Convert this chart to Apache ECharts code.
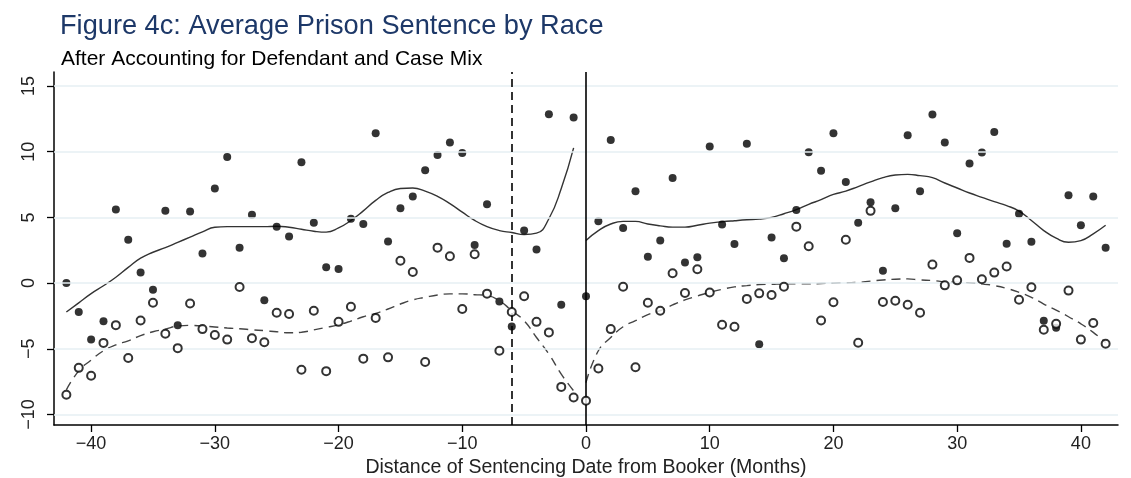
<!DOCTYPE html>
<html>
<head>
<meta charset="utf-8">
<script src="https://cdn.jsdelivr.net/npm/echarts@6/dist/echarts.min.js"></script>
<style>html,body{margin:0;padding:0;background:#fff}#c{width:1131px;height:478px}</style>
</head>
<body>
<div id="c"></div>
<script>
const monthsBefore = [-42,-41,-40,-39,-38,-37,-36,-35,-34,-33,-32,-31,-30,-29,-28,-27,-26,-25,-24,-23,-22,-21,-20,-19,-18,-17,-16,-15,-14,-13,-12,-11,-10,-9,-8,-7,-6,-5,-4,-3,-2,-1];
const monthsAfter = [0,1,2,3,4,5,6,7,8,9,10,11,12,13,14,15,16,17,18,19,20,21,22,23,24,25,26,27,28,29,30,31,32,33,34,35,36,37,38,39,40,41,42];

// Filled dots (group 1)
const filledBefore = [0,-2.2,-4.3,-2.9,5.6,3.3,0.8,-0.5,5.5,-3.2,5.45,2.25,7.2,9.6,2.7,5.2,-1.3,4.3,3.55,9.2,4.6,1.2,1.08,4.9,4.5,11.4,3.17,5.7,6.6,8.6,9.75,10.7,9.9,2.9,6.0,-1.4,-3.3,4.0,2.55,12.85,-1.65,12.6];
const filledAfter = [-1.0,4.7,10.9,4.2,7.0,2.0,3.25,8.0,1.56,1.97,10.4,4.47,2.97,10.6,-4.65,3.47,1.9,5.56,9.96,8.56,11.4,7.7,4.6,6.15,0.95,5.7,11.26,7.0,12.84,10.7,3.8,9.1,9.94,11.5,3.0,5.28,3.14,-2.86,-3.4,6.68,4.4,6.6,2.7];

// Hollow circles (group 2)
const hollowBefore = [-8.5,-6.45,-7.05,-4.55,-3.2,-5.7,-2.85,-1.5,-3.85,-4.95,-1.55,-3.5,-3.95,-4.3,-0.3,-4.2,-4.5,-2.25,-2.35,-6.6,-2.1,-6.7,-2.95,-1.8,-5.75,-2.65,-5.65,1.7,0.85,-6.0,2.7,2.05,-1.97,2.2,-0.8,-5.15,-2.2,-1.0,-2.95,-3.75,-7.9,-8.7];
const hollowAfter = [-8.95,-6.5,-3.5,-0.27,-6.4,-1.5,-2.1,0.75,-0.75,1.05,-0.72,-3.17,-3.32,-1.2,-0.78,-0.9,-0.27,4.3,2.8,-2.84,-1.46,3.3,-4.54,5.5,-1.44,-1.34,-1.64,-2.25,1.41,-0.17,0.21,1.92,0.29,0.8,1.26,-1.26,-0.32,-3.55,-3.1,-0.57,-4.3,-3.04,-4.62];

// Fitted curves
const solidFitBefore = [-2.2,-1.5,-0.8,-0.2,0.45,1.2,1.9,2.35,2.7,3.1,3.5,3.9,4.25,4.3,4.3,4.3,4.3,4.33,4.25,4.1,3.95,3.88,4.2,4.77,5.5,6.3,6.9,7.2,7.24,7.0,6.6,6.05,5.4,4.77,4.3,4.0,3.85,3.7,3.8,4.9,7.2,10.3];
const solidFitAfter = [3.25,4.0,4.5,4.7,4.7,4.5,4.36,4.26,4.26,4.4,4.57,4.67,4.75,4.82,4.87,5.0,5.28,5.6,6.0,6.35,6.75,7.0,7.35,7.7,8.03,8.23,8.28,8.18,8.03,7.62,7.24,6.86,6.53,6.2,5.9,5.48,4.77,4.0,3.42,3.11,3.24,3.75,4.4];
const dashFitBefore = [-8.13,-6.68,-5.86,-5.15,-4.7,-4.39,-4.0,-3.7,-3.5,-3.27,-3.22,-3.27,-3.34,-3.42,-3.47,-3.55,-3.62,-3.7,-3.78,-3.74,-3.56,-3.37,-3.17,-2.89,-2.56,-2.3,-1.97,-1.59,-1.28,-1.08,-0.9,-0.82,-0.82,-0.88,-0.95,-1.34,-2.1,-2.86,-4.14,-5.4,-6.93,-8.2];
const dashFitAfter = [-7.57,-5.15,-4.14,-3.32,-2.86,-2.4,-2.1,-1.66,-1.28,-0.98,-0.7,-0.47,-0.29,-0.19,-0.11,-0.09,-0.06,-0.06,-0.06,-0.03,0,0.03,0.05,0.15,0.24,0.3,0.32,0.24,0.2,0.1,0.06,0.02,-0.06,-0.19,-0.4,-0.7,-1.08,-1.59,-2.05,-2.56,-3.1,-3.75,-4.52];

const xTicks = [-40,-30,-20,-10,0,10,20,30,40];
const yTicks = [-10,-5,0,5,10,15];
const refLines = [-6, 0];

const pairs = (xs, ys) => xs.map((x, i) => [x, ys[i]]);
const fmt = v => String(v).replace('-', '\u2212');
const FONT = 'Liberation Sans, Arial, sans-serif';

const chart = echarts.init(document.getElementById('c'), null, {renderer: 'canvas'});
const lineBase = {type: 'line', smooth: true, showSymbol: false, symbol: 'none', z: 3, silent: true};

chart.setOption({
  animation: false,
  backgroundColor: '#fff',
  title: [
    {text: 'Figure 4c: Average Prison Sentence by Race', left: 55, top: 8,
     textStyle: {fontFamily: FONT, fontSize: 27.2, fontWeight: 'normal', color: '#1d3868'}},
    {text: 'After Accounting for Defendant and Case Mix', left: 56, top: 44,
     textStyle: {fontFamily: FONT, fontSize: 21, fontWeight: 'normal', color: '#000'}}
  ],
  grid: {left: 54, right: 13, top: 72, bottom: 53, containLabel: false, outerBoundsMode: 'none'},
  xAxis: {
    type: 'value', min: -43, max: 43,
    name: 'Distance of Sentencing Date from Booker (Months)',
    nameLocation: 'middle', nameGap: 32,
    nameTextStyle: {fontFamily: FONT, fontSize: 19.5, color: '#222'},
    axisLine: {show: true, onZero: false, lineStyle: {color: '#000', width: 1.5}},
    axisTick: {show: true, length: 7, customValues: xTicks, lineStyle: {color: '#000', width: 1.3}},
    axisLabel: {customValues: xTicks, formatter: fmt, margin: 10, fontFamily: FONT, fontSize: 18, color: '#222'},
    splitLine: {show: false}
  },
  yAxis: {
    type: 'value', min: -10.8, max: 16.07,
    axisLine: {show: true, onZero: false, lineStyle: {color: '#000', width: 1.5}},
    axisTick: {show: true, length: 7, customValues: yTicks, lineStyle: {color: '#000', width: 1.3}},
    axisLabel: {customValues: yTicks, formatter: fmt, rotate: 90, margin: 16, fontFamily: FONT, fontSize: 18, color: '#222'},
    splitLine: {show: false}
  },
  series: [
    {
      type: 'scatter', name: 'grid', data: [], silent: true, z: 1,
      markLine: {
        silent: true, symbol: 'none', label: {show: false},
        lineStyle: {color: '#e6eff3', width: 1.5, type: 'solid'},
        data: yTicks.map(v => ({yAxis: v}))
      }
    },
    {
      type: 'scatter', name: 'ref', data: [], silent: true, z: 2,
      markLine: {
        silent: true, symbol: 'none', label: {show: false},
        data: [
          {xAxis: refLines[0], lineStyle: {color: '#000', width: 1.6, type: [8, 5]}},
          {xAxis: refLines[1], lineStyle: {color: '#000', width: 1.6, type: 'solid'}}
        ]
      }
    },
    Object.assign({}, lineBase, {data: pairs(monthsBefore, solidFitBefore), lineStyle: {color: '#333', width: 1.4}}),
    Object.assign({}, lineBase, {data: pairs(monthsAfter, solidFitAfter), lineStyle: {color: '#333', width: 1.4}}),
    Object.assign({}, lineBase, {data: pairs(monthsBefore, dashFitBefore), lineStyle: {color: '#444', width: 1.4, type: [9, 6]}}),
    Object.assign({}, lineBase, {data: pairs(monthsAfter, dashFitAfter), lineStyle: {color: '#444', width: 1.4, type: [9, 6]}}),
    {
      type: 'scatter', z: 4, symbol: 'circle', symbolSize: 8,
      itemStyle: {color: '#000'},
      data: pairs(monthsBefore, filledBefore).concat(pairs(monthsAfter, filledAfter))
    },
    {
      type: 'scatter', z: 5, symbol: 'circle', symbolSize: 8,
      itemStyle: {color: '#fff', borderColor: '#000', borderWidth: 2},
      data: pairs(monthsBefore, hollowBefore).concat(pairs(monthsAfter, hollowAfter))
    }
  ]
});
</script>
</body>
</html>
